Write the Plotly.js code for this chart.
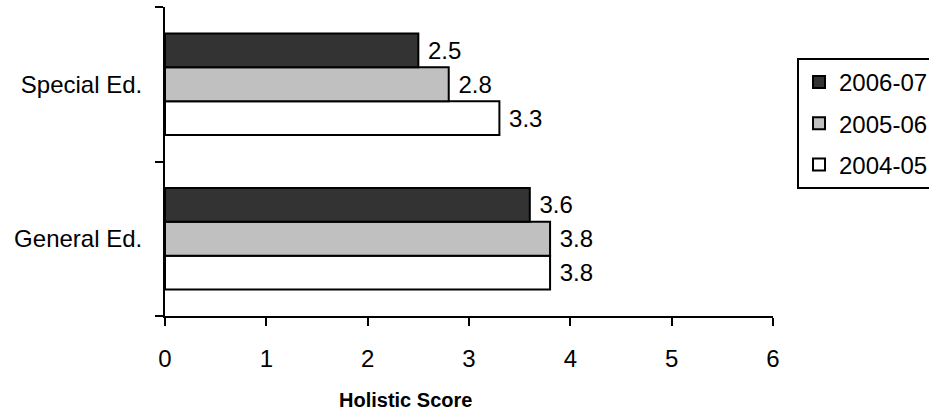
<!DOCTYPE html>
<html><head><meta charset="utf-8">
<script src="https://cdn.plot.ly/plotly-3.0.1.min.js"></script>
<style>html,body{margin:0;padding:0;background:#fff}#chart{width:929px;height:418px}</style>
</head><body><div id="chart"></div>
<script>
const categories = ['General Ed.', 'Special Ed.'];
const seriesNames = ['2004-05', '2005-06', '2006-07'];
const values2004 = [3.8, 3.3];
const values2005 = [3.8, 2.8];
const values2006 = [3.6, 2.5];
const xTicks = [0, 1, 2, 3, 4, 5, 6];
const xTitle = 'Holistic Score';

const seriesValues = [values2004, values2005, values2006];
const colors = ['#FFFFFF', '#C0C0C0', '#333333'];
const FONT = '"Liberation Sans", Arial, Helvetica, sans-serif';
const FS = 24;

const traces = seriesNames.map((name, i) => ({
  type: 'bar',
  orientation: 'h',
  name: name,
  legendgroup: name,
  legendrank: seriesNames.length - i,
  y: categories,
  x: seriesValues[i],
  marker: {color: colors[i], line: {color: '#000', width: 2}},
  texttemplate: '\u00a0%{x:.1f}',
  textposition: 'outside',
  constraintext: 'none',
  cliponaxis: false,
  textfont: {family: FONT, size: FS, color: '#000'},
  hoverinfo: 'skip'
}));

const layout = {
  width: 929, height: 418,
  paper_bgcolor: '#fff', plot_bgcolor: '#fff',
  font: {family: FONT, size: FS, color: '#000'},
  margin: {l: 165, r: 156, t: 7, b: 102, pad: 0, autoexpand: false},
  barmode: 'group', bargap: 0.342, bargroupgap: 0,
  showlegend: true,
  legend: {
    x: 1.0395, y: 0.835, xanchor: 'left', yanchor: 'top',
    bordercolor: '#000', borderwidth: 2, bgcolor: '#fff',
    font: {family: FONT, size: FS, color: '#000'},
    traceorder: 'grouped', tracegroupgap: 7
  },
  xaxis: {
    range: [0, 6], tickvals: xTicks, ticktext: xTicks.map(String),
    showline: true, linecolor: '#000', linewidth: 2,
    ticks: 'outside', ticklen: 8, tickwidth: 2, tickcolor: '#000',
    showgrid: false, zeroline: false, ticklabelstandoff: 12,
    tickfont: {family: FONT, size: FS, color: '#000'}, fixedrange: true
  },
  yaxis: {
    type: 'category', categoryorder: 'array', categoryarray: categories,
    range: [-0.5, 1.5],
    showline: true, linecolor: '#000', linewidth: 2,
    ticks: 'outside', tickson: 'boundaries', ticklen: 8, tickwidth: 2, tickcolor: '#000',
    showgrid: false, zeroline: false, ticklabelstandoff: 16,
    tickfont: {family: FONT, size: FS, color: '#000'}, fixedrange: true
  },
  annotations: [{
    text: '<b>' + xTitle + '</b>', xref: 'paper', yref: 'paper',
    x: 0.395, y: -0.272, xanchor: 'center', yanchor: 'middle', showarrow: false,
    font: {family: FONT, size: 20, color: '#000'}
  }]
};

Plotly.newPlot('chart', traces, layout, {staticPlot: true, displayModeBar: false});
</script></body></html>
